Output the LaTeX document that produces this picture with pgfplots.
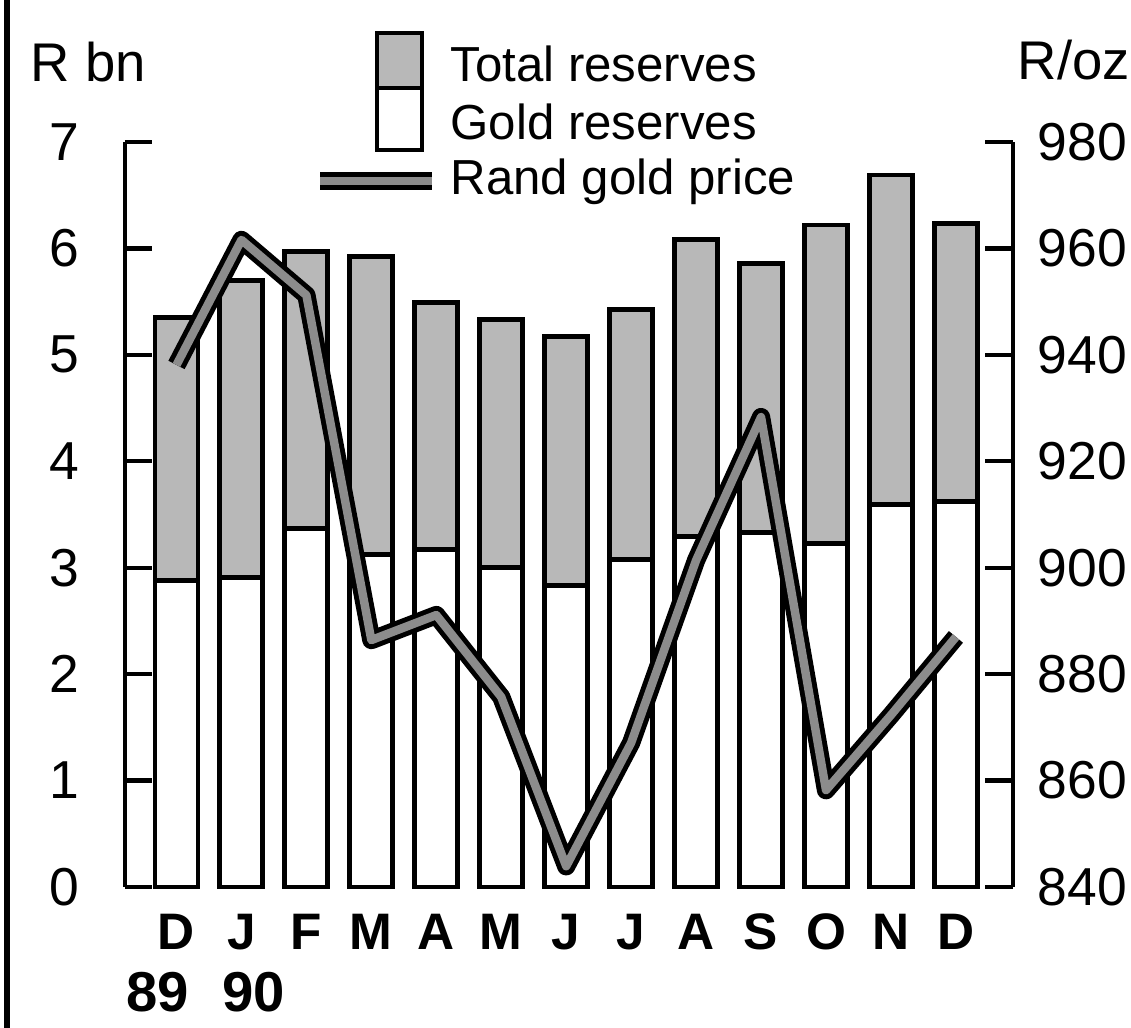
\documentclass[border=0pt]{standalone}
\usepackage{fontspec}
\setmainfont{Liberation Sans}
\usepackage{pgfplots}
\usepackage{pgfplotstable}
\pgfplotsset{compat=1.18}

\definecolor{stipple}{gray}{0.72}
\definecolor{bandgrey}{gray}{0.55}

% months Dec 89 .. Dec 90: total reserves, gold reserves (R bn), rand gold price (R/oz)
\pgfplotstableread{
idx total gold price
0  5.35 2.88 938.1
1  5.70 2.91 961.6
2  5.97 3.37 951.2
3  5.92 3.12 886.4
4  5.49 3.17 891.1
5  5.33 3.00 875.7
6  5.17 2.83 843.9
7  5.43 3.08 867.1
8  6.08 3.29 901.4
9  5.86 3.33 928.3
10 6.22 3.23 858.2
11 6.69 3.59 872.3
12 6.23 3.62 887.0
}\reserves

\newcommand{\fs}[1]{\fontsize{#1}{#1}\selectfont}

\begin{document}
\begin{tikzpicture}
\useasboundingbox (0,0) rectangle (11.31,10.28);

% frame line on the left
\draw[line width=1.8pt] (0.07,0) -- (0.07,10.28);

\begin{axis}[
    at={(1.25cm,1.41cm)}, anchor=south west,
    scale only axis, width=8.88cm, height=7.45cm,
    xmin=-0.793, xmax=12.879, ymin=0, ymax=7,
    axis y line*=left, axis x line*=bottom,
    x axis line style={draw=none},
    axis line style={line width=1.2pt},
    xtick={0,...,12},
    xticklabels={D,J,F,M,A,M,J,J,A,S,O,N,D},
    xtick style={draw=none},
    xticklabel style={font=\bfseries\fs{14.6}, anchor=base, inner sep=0pt, yshift=-0.63cm},
    ytick={0,...,7},
    ytick style={black, line width=1.2pt},
    tick align=inside, major tick length=0.27cm,
    yticklabel style={font=\fs{15.2}, anchor=east, inner sep=0pt, xshift=-0.45cm},
    /pgf/number format/assume math mode=true,
    clip=false,
]
\addplot[ybar, bar shift=0pt, bar width=0.43cm, fill=stipple, draw=black, line width=1.4pt]
    table[x=idx, y=total] {\reserves};
\addplot[ybar, bar shift=0pt, bar width=0.43cm, fill=white, draw=black, line width=1.4pt]
    table[x=idx, y=gold] {\reserves};
\end{axis}

\begin{axis}[
    at={(1.25cm,1.41cm)}, anchor=south west,
    scale only axis, width=8.88cm, height=7.45cm,
    xmin=-0.793, xmax=12.879, ymin=840, ymax=980,
    axis y line*=right, axis x line=none,
    axis line style={line width=1.2pt},
    ytick={840,860,...,980},
    ytick style={black, line width=1.2pt},
    tick align=inside, major tick length=0.28cm,
    yticklabel style={font=\fs{15.2}, anchor=west, inner sep=0pt, xshift=0.24cm},
    /pgf/number format/assume math mode=true,
    /pgf/number format/1000 sep={},
    clip=false,
]
\addplot[black, line width=5.2pt, line join=round, mark=none]
    table[x=idx, y=price] {\reserves};
\addplot[bandgrey, line width=2.4pt, line join=round, mark=none]
    table[x=idx, y=price] {\reserves};
\end{axis}

% axis units
\node[anchor=base west, inner sep=0pt, font=\fs{15.5}] at (0.30,9.46) {R bn};
\node[anchor=base west, inner sep=0pt, font=\fs{15.5}] at (10.17,9.48) {R/oz};

% year labels under the first two months
\node[anchor=base, inner sep=0pt, font=\bfseries\fs{16}] at (1.58,0.16) {89};
\node[anchor=base, inner sep=0pt, font=\bfseries\fs{16}] at (2.54,0.16) {90};

% legend
\draw[line width=1.4pt, fill=stipple] (3.77,9.40) rectangle (4.22,9.95);
\draw[line width=1.4pt, fill=white] (3.77,8.78) rectangle (4.22,9.40);
\draw[line width=5.2pt] (3.20,8.47) -- (4.32,8.47);
\draw[line width=2.4pt, bandgrey] (3.20,8.47) -- (4.32,8.47);
\node[anchor=base west, inner sep=0pt, font=\fs{14}] at (4.50,9.46) {Total reserves};
\node[anchor=base west, inner sep=0pt, font=\fs{14}] at (4.50,8.88) {Gold reserves};
\node[anchor=base west, inner sep=0pt, font=\fs{14}] at (4.50,8.33) {Rand gold price};
\end{tikzpicture}
\end{document}
